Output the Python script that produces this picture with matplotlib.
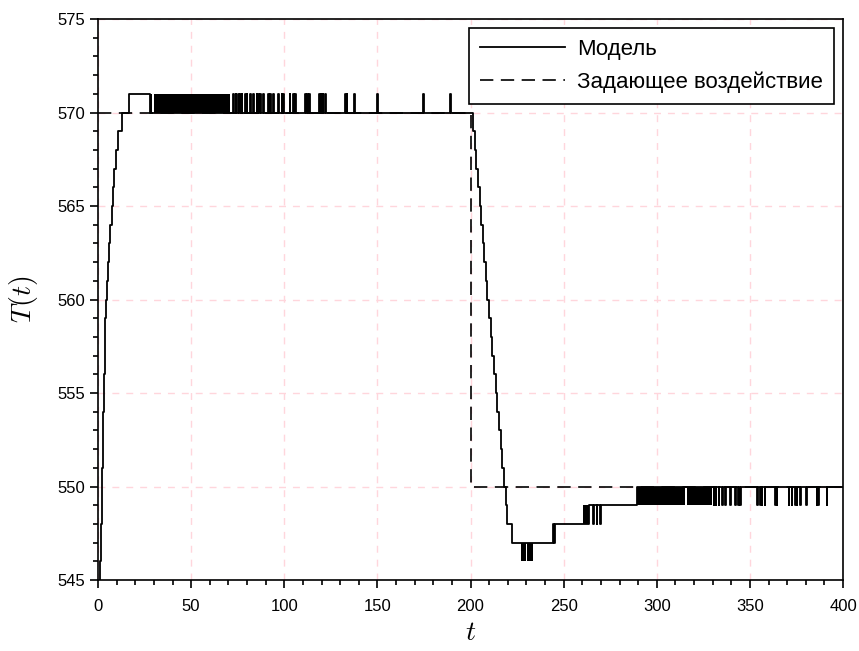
import matplotlib
matplotlib.use("Agg")
import matplotlib.pyplot as plt
from matplotlib.ticker import MultipleLocator

plt.rcParams['font.family'] = ['Liberation Sans', 'DejaVu Sans']
plt.rcParams['mathtext.fontset'] = 'cm'

# задающее воздействие
ref_t = [0, 200, 200, 400]
ref_T = [570, 570, 550, 550]

# модель: момент перехода и новый уровень (ступеньки)
step_t = [0.0, 0.5, 0.9, 1.2, 1.5, 1.7, 1.9, 2.1, 2.3, 2.45, 2.6, 2.8, 3.0,
          3.25, 3.5, 3.75, 4.0, 4.3, 4.9, 5.5, 6.1, 6.7, 7.3, 7.9, 8.6, 9.7,
          10.7, 12.9, 16.6, 27.9,
          201.3, 202.2, 203.1, 204.0, 204.9, 205.8, 206.6, 207.4, 208.2, 209.0,
          209.9, 210.8, 211.7, 212.6, 213.5, 214.4, 215.3, 216.2, 217.1, 218.0,
          218.9, 219.8, 222.1, 244.5, 263.8, 289.2, 400.0]
step_T = [543, 544, 545, 546, 547, 548, 549, 550, 551, 552, 553, 554, 555,
          556, 557, 558, 559, 560, 561, 562, 563, 564, 565, 566, 567, 568,
          569, 570, 571, 570,
          569, 568, 567, 566, 565, 564, 563, 562, 561, 560,
          559, 558, 557, 556, 555, 554, 553, 552, 551, 550,
          549, 548, 547, 548, 549, 550, 550]

# одиночные выбросы: время и уровень выброса
spike_t = [72.6, 74.0, 75.3, 76.2, 77.1, 79.0, 79.8, 81.6, 83.4, 85.2, 86.0,
           87.0, 88.7, 91.3, 92.3, 94.0, 96.8, 98.6, 99.3, 103.0, 104.9, 105.8,
           111.1, 112.4, 113.4, 118.7, 119.6, 120.6, 121.9, 132.6, 133.5, 137.6,
           150.0, 174.7, 189.0,
           244.9, 265.9, 267.7, 269.5,
           330.6, 331.6, 333.3, 335.0, 336.8, 339.5, 342.0, 343.8, 344.7, 353.8,
           355.5, 356.4, 358.0, 363.6, 364.4, 370.8, 372.5, 374.2, 375.2, 377.0,
           380.4, 385.9, 386.7, 391.3]
spike_T = [571] * 35 + [547] + [548] * 3 + [549] * 24

# участки частого переключения (дребезг): начало, конец, нижний и верхний уровни
band_t0 = [28.0, 30.0, 226.9, 230.3, 260.2, 289.2, 316.2]
band_t1 = [29.0, 71.0, 230.0, 233.7, 263.8, 315.0, 329.5]
band_lo = [570, 570, 546, 546, 548, 549, 549]
band_hi = [571, 571, 547, 547, 549, 550, 550]

# собираем ступенчатый сигнал с выбросами
spike_w = 0.35
events = list(zip(step_t, step_T))
for s, lev in zip(spike_t, spike_T):
    base = [T for t, T in zip(step_t, step_T) if t <= s][-1]
    events.append((s, lev))
    events.append((s + spike_w, base))
events.sort(key=lambda e: e[0])
model_t = [e[0] for e in events]
model_T = [e[1] for e in events]

fig = plt.figure(figsize=(8.59, 6.51), dpi=100)
ax = fig.add_axes([98 / 859, 1 - 580 / 651, 745 / 859, 561 / 651])

ax.plot(model_t, model_T, color='black', lw=1.3, drawstyle='steps-post', label='Модель')
for t0, t1, lo, hi in zip(band_t0, band_t1, band_lo, band_hi):
    ax.fill_between([t0, t1], lo, hi, color='black', lw=0)
ax.plot(ref_t, ref_T, color='black', lw=1.2, dashes=(8, 4.5), label='Задающее воздействие')

ax.set_xlim(0, 400)
ax.set_ylim(545, 575)
ax.xaxis.set_major_locator(MultipleLocator(50))
ax.xaxis.set_minor_locator(MultipleLocator(10))
ax.yaxis.set_major_locator(MultipleLocator(5))
ax.yaxis.set_minor_locator(MultipleLocator(1))
ax.tick_params(which='both', direction='out', top=False, right=False, width=1.2,
               labelsize=12)
ax.tick_params(which='major', length=6)
ax.tick_params(which='minor', length=3.5)
ax.tick_params(axis='x', which='major', pad=8)
for sp in ax.spines.values():
    sp.set_linewidth(1.2)

ax.grid(True, which='major', color='#ffd6dc', lw=1.0, dashes=(5, 5))
ax.set_axisbelow(True)

ax.set_xlabel('$t$', fontsize=20, labelpad=4)
ax.set_ylabel('$T(t)$', fontsize=20, labelpad=12)

leg = ax.legend(loc='upper right', fontsize=16, fancybox=False, framealpha=1,
                edgecolor='black', handlelength=3.8, handletextpad=0.55,
                labelspacing=0.5, borderaxespad=0.4, borderpad=0.5)
leg.get_frame().set_linewidth(1.2)

fig.savefig('out.png', dpi=100)
